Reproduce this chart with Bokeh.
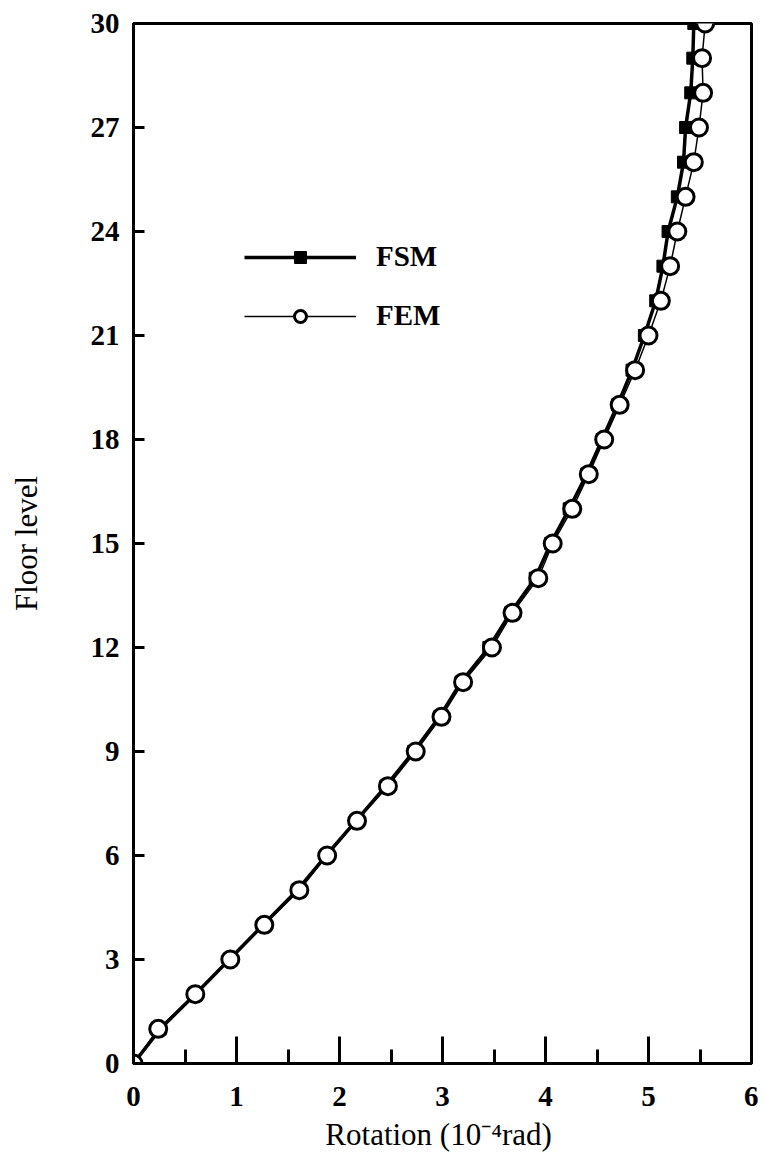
from bokeh.plotting import figure
from bokeh.models import FixedTicker, Range1d, Legend, LegendItem
from bokeh.embed import file_html
from bokeh.resources import INLINE

floors = list(range(0, 31))
fem = [0.00, 0.24, 0.60, 0.94, 1.27, 1.61, 1.88, 2.17, 2.47, 2.74, 2.99,
       3.20, 3.48, 3.68, 3.93, 4.07, 4.26, 4.42, 4.57, 4.72, 4.87,
       5.00, 5.12, 5.21, 5.28, 5.36, 5.44, 5.49, 5.53, 5.52, 5.55]
fsm = [0.00, 0.26, 0.60, 0.93, 1.26, 1.59, 1.87, 2.16, 2.45, 2.72, 2.97,
       3.18, 3.45, 3.66, 3.90, 4.05, 4.23, 4.40, 4.55, 4.70, 4.84,
       4.96, 5.07, 5.14, 5.19, 5.28, 5.34, 5.36, 5.41, 5.43, 5.44]
x_ticks = [0, 1, 2, 3, 4, 5, 6]
x_minor = [0.5, 1.5, 2.5, 3.5, 4.5, 5.5]
y_ticks = [0, 3, 6, 9, 12, 15, 18, 21, 24, 27, 30]

SERIF = "Liberation Serif"

p = figure(width=758, height=1158, output_backend="svg", toolbar_location=None,
           x_range=Range1d(0, 6), y_range=Range1d(0, 30),
           min_border_left=133, min_border_right=7, min_border_top=23,
           min_border_bottom=95)
p.grid.visible = False
p.outline_line_color = "black"
p.outline_line_width = 3

r_fsm_line = p.line(fsm, floors, line_color="black", line_width=3.5)
r_fsm_pts = p.scatter(fsm, floors, marker="square", size=12, fill_color="black",
                      line_color="black", line_width=1)
r_fem_line = p.line(fem, floors, line_color="black", line_width=1.5)
r_fem_pts = p.scatter(fem, floors, marker="circle", size=17, fill_color="white",
                      line_color="black", line_width=3)

for ax in (p.xaxis[0], p.yaxis[0]):
    ax.axis_line_width = 3
    ax.axis_line_color = "black"
    ax.major_tick_line_width = 3
    ax.minor_tick_line_width = 3
    ax.major_tick_out = 0
    ax.minor_tick_out = 0
    ax.major_label_text_font = SERIF
    ax.major_label_text_font_style = "bold"
    ax.major_label_text_font_size = "29px"
    ax.major_label_text_color = "black"
    ax.axis_label_text_font = SERIF
    ax.axis_label_text_font_style = "normal"
    ax.axis_label_text_font_size = "31px"
    ax.axis_label_text_color = "black"

p.xaxis[0].ticker = FixedTicker(ticks=x_ticks, minor_ticks=x_minor)
p.xaxis[0].major_tick_in = 27
p.xaxis[0].minor_tick_in = 14
p.xaxis[0].major_label_standoff = 23
p.xaxis[0].axis_label = "Rotation  (10\u207b\u2074rad)"
p.xaxis[0].axis_label_standoff = 8

p.yaxis[0].ticker = FixedTicker(ticks=y_ticks, minor_ticks=[])
p.yaxis[0].major_tick_in = 11
p.yaxis[0].minor_tick_in = 0
p.yaxis[0].major_label_standoff = 14
p.yaxis[0].axis_label = "Floor level"
p.yaxis[0].axis_label_standoff = 44

legend = Legend(items=[
    LegendItem(label="FSM", renderers=[r_fsm_line, r_fsm_pts]),
    LegendItem(label="FEM", renderers=[r_fem_line, r_fem_pts]),
], location=(111, 731))
legend.glyph_width = 112
legend.glyph_height = 30
legend.label_height = 30
legend.spacing = 26
legend.label_text_font = SERIF
legend.label_text_font_style = "bold"
legend.label_text_font_size = "29px"
legend.label_text_color = "black"
legend.label_standoff = 20
legend.border_line_color = None
legend.background_fill_alpha = 0
p.add_layout(legend, "center")

open("out.html", "w").write(file_html(p, INLINE))
